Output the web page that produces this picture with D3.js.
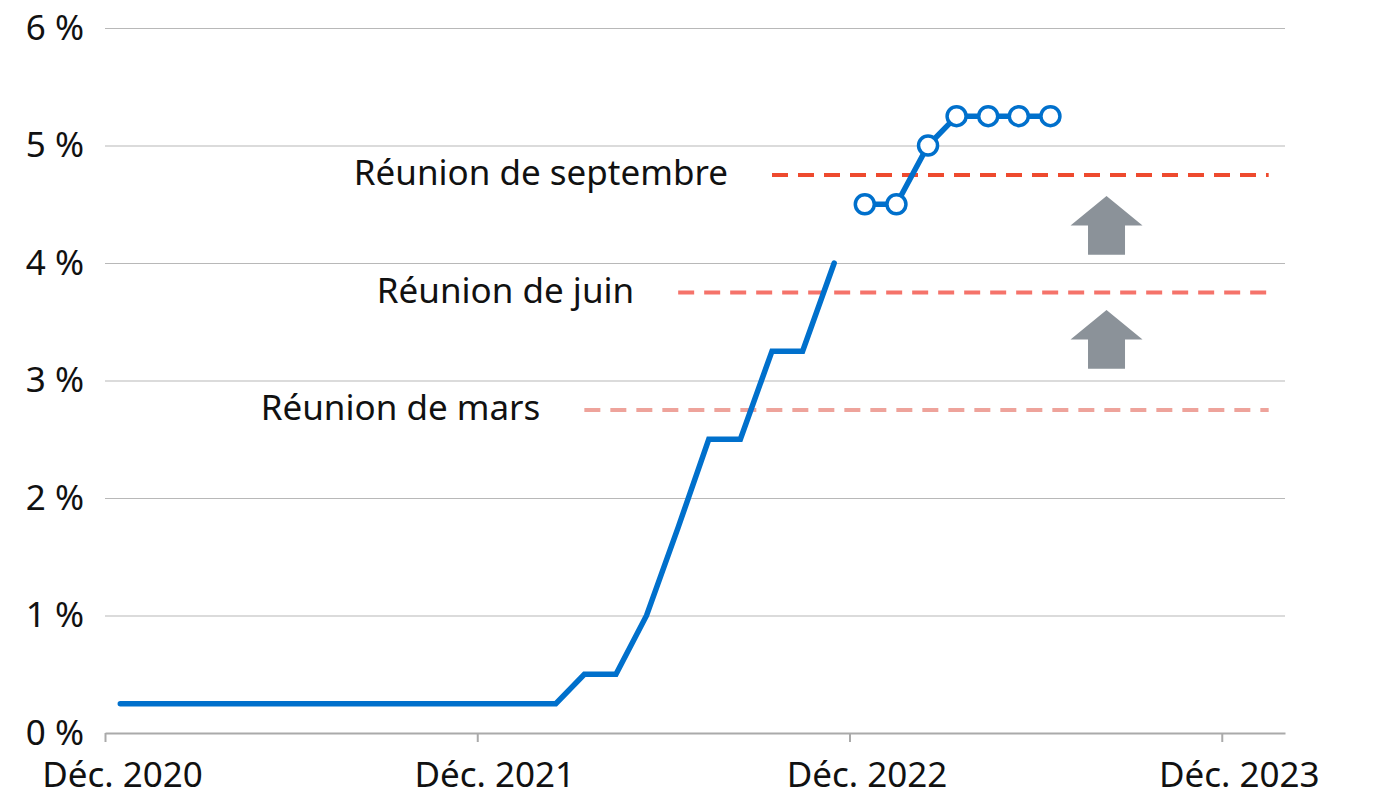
<!DOCTYPE html>
<html>
<head>
<meta charset="utf-8">
<script src="https://cdn.jsdelivr.net/npm/d3@7"></script>
<style>
  body { margin: 0; background: #fff; }
  text { font-family: "Noto Sans", "Open Sans", sans-serif; fill: #111; }
</style>
</head>
<body>
<div id="chart"></div>
<script>
// taux directeur (borne supérieure), un point par mois, déc. 2020 -> nov. 2022
var months = d3.range(0, 24).map(function (i) { return new Date(2020, 11 + i, 16); });
var rates = [0.25, 0.25, 0.25, 0.25, 0.25, 0.25, 0.25, 0.25, 0.25, 0.25, 0.25, 0.25,
             0.25, 0.25, 0.25, 0.5, 0.5, 1.0, 1.75, 2.5, 2.5, 3.25, 3.25, 4.0];

// prévisions (points ouverts), déc. 2022 -> juin 2023
var projMonths = d3.range(24, 31).map(function (i) { return new Date(2020, 11 + i, 16); });
var projRates = [4.5, 4.5, 5.0, 5.25, 5.25, 5.25, 5.25];

// réunions : niveau prévu et mois de départ du trait
var meetings = ["Réunion de mars", "Réunion de juin", "Réunion de septembre"];
var meetingLevels = [2.75, 3.75, 4.75];
var meetingStart = [new Date(2022, 2, 16), new Date(2022, 5, 16), new Date(2022, 8, 16)];
var meetingEnd = new Date(2024, 0, 16);
var meetingColors = ["#eea39b", "#f5736a", "#ee4a2e"];

// flèches de hausse
var arrowFrom = [3.1, 4.07];
var arrowTo = [3.6, 4.57];
var arrowDate = new Date(2023, 7, 10);

var yTicks = [0, 1, 2, 3, 4, 5, 6];
var xTicks = [new Date(2020, 11, 1), new Date(2021, 11, 1), new Date(2022, 11, 1), new Date(2023, 11, 1)];
var monthNames = ["Janv.", "Févr.", "Mars", "Avr.", "Mai", "Juin", "Juil.", "Août", "Sept.", "Oct.", "Nov.", "Déc."];

var width = 1380, height = 800;
var fontSize = "35px";
var svg = d3.select("#chart").append("svg")
    .attr("width", width)
    .attr("height", height);

var x = d3.scaleTime()
    .domain([new Date(2020, 11, 1), new Date(2024, 1, 1)])
    .range([105, 1285]);
var y = d3.scaleLinear()
    .domain([0, 6])
    .range([733, 28]);

// grille
svg.append("g")
    .attr("transform", "translate(105,0)")
    .call(d3.axisLeft(y).tickValues(yTicks.slice(1)).tickSize(-1180).tickFormat(""))
    .call(function (g) {
        g.select(".domain").remove();
        g.selectAll("line").attr("stroke", "#b8b8b8").attr("stroke-width", 1.2);
    });

// axe y
svg.append("g")
    .attr("transform", "translate(84,0)")
    .call(d3.axisLeft(y).tickValues(yTicks).tickSize(0).tickPadding(0)
        .tickFormat(function (d) { return d + " %"; }))
    .call(function (g) {
        g.select(".domain").remove();
        g.selectAll("text").style("font-size", fontSize).attr("fill", "#111");
    });

// axe x
svg.append("g")
    .attr("transform", "translate(0,733)")
    .call(d3.axisBottom(x).tickValues(xTicks).tickSize(9).tickSizeOuter(0).tickPadding(20)
        .tickFormat(function (d) { return monthNames[d.getMonth()] + " " + d.getFullYear(); }))
    .call(function (g) {
        g.select(".domain").attr("stroke", "#aaa").attr("stroke-width", 2);
        g.selectAll("line").attr("stroke", "#aaa").attr("stroke-width", 2);
        g.selectAll("text").style("font-size", fontSize).attr("fill", "#111").attr("dx", 17);
    });

// réunions
for (var i = 0; i < meetings.length; i++) {
    svg.append("line")
        .attr("x1", x(meetingStart[i]))
        .attr("x2", x(meetingEnd))
        .attr("y1", y(meetingLevels[i]))
        .attr("y2", y(meetingLevels[i]))
        .attr("stroke", meetingColors[i])
        .attr("stroke-width", 4)
        .attr("stroke-dasharray", "16,10");

    svg.append("text")
        .attr("x", x(meetingStart[i]) - 44)
        .attr("y", y(meetingLevels[i]))
        .attr("dy", "0.3em")
        .attr("text-anchor", "end")
        .style("font-size", fontSize)
        .text(meetings[i]);
}

// flèches
for (var j = 0; j < arrowFrom.length; j++) {
    var cx = x(arrowDate), yb = y(arrowFrom[j]), yt = y(arrowTo[j]);
    var yh = yt + (yb - yt) * 0.5;
    svg.append("path")
        .attr("d", "M" + cx + "," + yt +
            "L" + (cx + 36) + "," + yh +
            "L" + (cx + 18.5) + "," + yh +
            "L" + (cx + 18.5) + "," + yb +
            "L" + (cx - 18.5) + "," + yb +
            "L" + (cx - 18.5) + "," + yh +
            "L" + (cx - 36) + "," + yh + "Z")
        .attr("fill", "#8b9299");
}

// taux effectif
var line = d3.line()
    .x(function (d) { return x(d[0]); })
    .y(function (d) { return y(d[1]); });

svg.append("path")
    .datum(d3.zip(months, rates))
    .attr("d", line)
    .attr("fill", "none")
    .attr("stroke", "#0070cc")
    .attr("stroke-width", 5.5)
    .attr("stroke-linecap", "round")
    .attr("stroke-linejoin", "miter");

// prévisions
var proj = d3.zip(projMonths, projRates);
svg.append("path")
    .datum(proj)
    .attr("d", line)
    .attr("fill", "none")
    .attr("stroke", "#0070cc")
    .attr("stroke-width", 5.5);

svg.selectAll(".proj")
    .data(proj)
    .enter().append("circle")
    .attr("class", "proj")
    .attr("cx", function (d) { return x(d[0]); })
    .attr("cy", function (d) { return y(d[1]); })
    .attr("r", 9.5)
    .attr("fill", "#fff")
    .attr("stroke", "#0070cc")
    .attr("stroke-width", 3.5);
</script>
</body>
</html>
